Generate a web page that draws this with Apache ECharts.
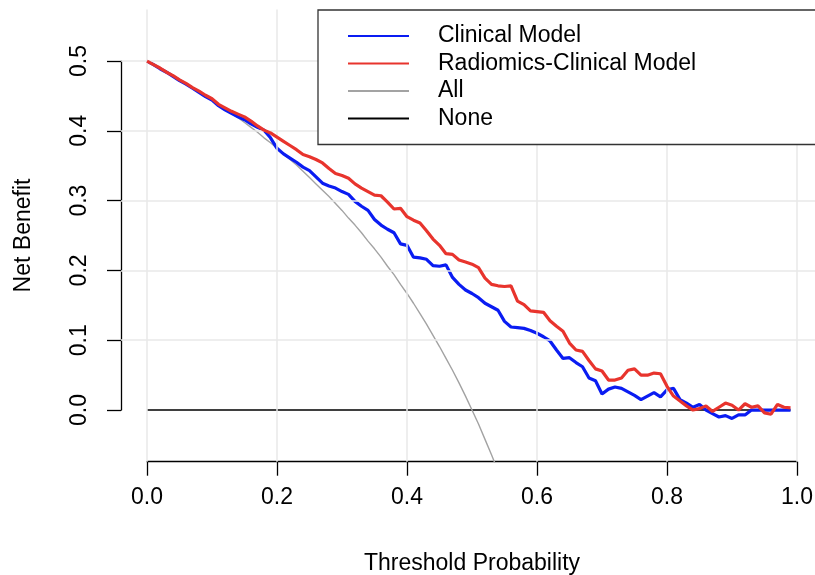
<!DOCTYPE html>
<html>
<head>
<meta charset="utf-8">
<script src="https://cdn.jsdelivr.net/npm/echarts@6/dist/echarts.min.js"></script>
<style>
  html, body { margin: 0; padding: 0; background: #fff; }
  #chart { width: 815px; height: 575px; }
</style>
</head>
<body>
<div id="chart"></div>
<script>
// 阈值概率 0.00 ~ 0.99
const thresholds = [
  0.00, 0.01, 0.02, 0.03, 0.04, 0.05, 0.06, 0.07, 0.08, 0.09,
  0.10, 0.11, 0.12, 0.13, 0.14, 0.15, 0.16, 0.17, 0.18, 0.19,
  0.20, 0.21, 0.22, 0.23, 0.24, 0.25, 0.26, 0.27, 0.28, 0.29,
  0.30, 0.31, 0.32, 0.33, 0.34, 0.35, 0.36, 0.37, 0.38, 0.39,
  0.40, 0.41, 0.42, 0.43, 0.44, 0.45, 0.46, 0.47, 0.48, 0.49,
  0.50, 0.51, 0.52, 0.53, 0.54, 0.55, 0.56, 0.57, 0.58, 0.59,
  0.60, 0.61, 0.62, 0.63, 0.64, 0.65, 0.66, 0.67, 0.68, 0.69,
  0.70, 0.71, 0.72, 0.73, 0.74, 0.75, 0.76, 0.77, 0.78, 0.79,
  0.80, 0.81, 0.82, 0.83, 0.84, 0.85, 0.86, 0.87, 0.88, 0.89,
  0.90, 0.91, 0.92, 0.93, 0.94, 0.95, 0.96, 0.97, 0.98, 0.99
]

// Clinical Model（蓝）
const clinical = [
  0.500, 0.495, 0.489, 0.484, 0.478, 0.472, 0.467, 0.461, 0.455, 0.449,
  0.444, 0.436, 0.430, 0.425, 0.420, 0.416, 0.410, 0.405, 0.401, 0.390,
  0.375, 0.367, 0.361, 0.355, 0.348, 0.343, 0.334, 0.325, 0.321, 0.318,
  0.313, 0.309, 0.299, 0.292, 0.286, 0.273, 0.265, 0.259, 0.254, 0.238,
  0.236, 0.219, 0.218, 0.216, 0.207, 0.206, 0.208, 0.190, 0.180, 0.172,
  0.167, 0.161, 0.153, 0.148, 0.143, 0.127, 0.119, 0.118, 0.117, 0.114,
  0.110, 0.105, 0.099, 0.086, 0.074, 0.075, 0.068, 0.062, 0.046, 0.042,
  0.023, 0.030, 0.033, 0.031, 0.026, 0.021, 0.015, 0.020, 0.025, 0.019,
  0.029, 0.031, 0.015, 0.010, 0.004, 0.008, 0.000, -0.005, -0.010, -0.008,
  -0.012, -0.007, -0.007, 0.000, 0.000, 0.000, 0.000, 0.000, 0.000, 0.000
]

// Radiomics-Clinical Model（红）
const radiomics = [
  0.500, 0.495, 0.490, 0.484, 0.479, 0.473, 0.468, 0.462, 0.457, 0.451,
  0.446, 0.438, 0.433, 0.428, 0.424, 0.420, 0.414, 0.407, 0.401, 0.397,
  0.391, 0.385, 0.379, 0.373, 0.366, 0.363, 0.359, 0.354, 0.346, 0.339,
  0.336, 0.332, 0.324, 0.318, 0.313, 0.308, 0.307, 0.298, 0.288, 0.289,
  0.277, 0.272, 0.268, 0.257, 0.245, 0.236, 0.224, 0.223, 0.215, 0.212,
  0.209, 0.204, 0.189, 0.180, 0.178, 0.177, 0.178, 0.156, 0.151, 0.142,
  0.141, 0.140, 0.128, 0.120, 0.113, 0.096, 0.086, 0.084, 0.071, 0.059,
  0.056, 0.043, 0.043, 0.046, 0.057, 0.059, 0.050, 0.050, 0.053, 0.052,
  0.034, 0.020, 0.013, 0.006, 0.000, 0.002, 0.006, -0.002, 0.004, 0.010,
  0.007, 0.000, 0.009, 0.004, 0.006, -0.004, -0.006, 0.008, 0.004, 0.003
]

// All（灰），超出下边界的部分被裁掉
const treatAll = [
  0.500, 0.495, 0.490, 0.485, 0.479, 0.474, 0.468, 0.462, 0.457, 0.451,
  0.444, 0.438, 0.432, 0.425, 0.419, 0.412, 0.405, 0.398, 0.390, 0.383,
  0.375, 0.367, 0.359, 0.351, 0.342, 0.333, 0.324, 0.315, 0.306, 0.296,
  0.286, 0.275, 0.265, 0.254, 0.242, 0.231, 0.219, 0.206, 0.194, 0.180,
  0.167, 0.153, 0.138, 0.123, 0.107, 0.091, 0.074, 0.057, 0.039, 0.020,
  0.000, -0.020, -0.042, -0.064, -0.087, -0.111
]

// None（黑）
const treatNone = [
  0, 0, 0, 0, 0, 0, 0, 0, 0, 0, 0, 0, 0, 0, 0, 0, 0, 0, 0, 0,
  0, 0, 0, 0, 0, 0, 0, 0, 0, 0, 0, 0, 0, 0, 0, 0, 0, 0, 0, 0,
  0, 0, 0, 0, 0, 0, 0, 0, 0, 0, 0, 0, 0, 0, 0, 0, 0, 0, 0, 0,
  0, 0, 0, 0, 0, 0, 0, 0, 0, 0, 0, 0, 0, 0, 0, 0, 0, 0, 0, 0,
  0, 0, 0, 0, 0, 0, 0, 0, 0, 0, 0, 0, 0, 0, 0, 0, 0, 0, 0, 0
]

// 刻度
const xTicks = [0, 0.2, 0.4, 0.6, 0.8, 1.0]
const yTicks = [0.1, 0.2, 0.3, 0.4, 0.5] // 0 处被 None 线盖住

const FONT = "'Liberation Sans', Arial, Helvetica, sans-serif"
const FS = 23
const pair = (ys) => ys.map((v, i) => [thresholds[i], v])

const chart = echarts.init(document.getElementById('chart'), null, { renderer: 'canvas' })

// 网格线（浅灰，铺满整个绘图区）
const gridMarks = {
  silent: true,
  symbol: ['none', 'none'],
  label: { show: false },
  lineStyle: { color: '#e8e8e8', width: 1.5, type: 'solid' },
  emphasis: { disabled: true },
  animation: false,
  data: [
    ...xTicks.map(v => ({ xAxis: v })),
    ...yTicks.map(v => ({ yAxis: v }))
  ]
}

const lineSeries = (name, ys, color, width, z) => ({
  name,
  type: 'line',
  data: pair(ys),
  symbol: 'none',
  clip: true,
  z,
  lineStyle: { color, width },
  itemStyle: { color },
  emphasis: { disabled: true }
})

const option = {
  animation: false,
  backgroundColor: '#fff',
  textStyle: { fontFamily: FONT },
  // 0: 绘图区；1: x 轴（只画 0~1）；2: y 轴（只画 0~0.5）
  grid: [
    { left: 121, top: 9.4, width: 702, height: 452.3, outerBoundsMode: 'none' },
    { left: 147, top: 9.4, width: 650, height: 452.3, outerBoundsMode: 'none' },
    { left: 121, top: 61, width: 650, height: 349, outerBoundsMode: 'none' }
  ],
  xAxis: [
    { gridIndex: 0, type: 'value', min: -0.04, max: 1.04, show: false },
    {
      gridIndex: 1, type: 'value', min: 0, max: 1, interval: 0.2,
      name: 'Threshold Probability', nameLocation: 'middle', nameGap: 90,
      nameTextStyle: { fontSize: FS, color: '#000', fontFamily: FONT },
      axisLine: { onZero: false, lineStyle: { color: '#000', width: 1.3 } },
      axisTick: { length: 14, lineStyle: { color: '#000', width: 1.3 } },
      axisLabel: { fontSize: FS, color: '#000', margin: 24, fontFamily: FONT, formatter: v => v.toFixed(1) },
      splitLine: { show: false }
    },
    { gridIndex: 2, type: 'value', min: 0, max: 1, show: false }
  ],
  yAxis: [
    { gridIndex: 0, type: 'value', min: -0.074, max: 0.574, show: false },
    { gridIndex: 1, type: 'value', min: 0, max: 1, show: false },
    {
      gridIndex: 2, type: 'value', min: 0, max: 0.5, interval: 0.1,
      name: 'Net Benefit', nameLocation: 'middle', nameGap: 86,
      nameTextStyle: { fontSize: FS, color: '#000', fontFamily: FONT },
      axisLine: { show: true, onZero: false, lineStyle: { color: '#000', width: 1.3 } },
      axisTick: { show: true, length: 14, lineStyle: { color: '#000', width: 1.3 } },
      axisLabel: { fontSize: FS, color: '#000', rotate: 90, margin: 30, fontFamily: FONT, formatter: v => v.toFixed(1) },
      splitLine: { show: false }
    }
  ],
  legend: {
    data: ['Clinical Model', 'Radiomics-Clinical Model', 'All', 'None'],
    orient: 'vertical',
    left: 318,
    top: 10,
    z: 20,
    padding: [14.5, 180, 14.5, 29],
    itemGap: 4.5,
    itemWidth: 61,
    itemHeight: 14,
    itemStyle: { opacity: 0 },
    backgroundColor: '#fff',
    borderColor: '#333',
    borderWidth: 1.3,
    textStyle: { fontSize: FS, color: '#000', fontFamily: FONT, padding: [0, 0, 0, 24] }
  },
  series: [
    {
      name: 'grid',
      type: 'line',
      data: [],
      z: 1,
      markLine: gridMarks
    },
    lineSeries('None', treatNone, '#000000', 1.5, 2),
    lineSeries('All', treatAll, '#a3a3a3', 1.4, 3),
    lineSeries('Clinical Model', clinical, '#0a1cf2', 3.2, 4),
    lineSeries('Radiomics-Clinical Model', radiomics, '#e8342d', 3.2, 5)
  ]
}

chart.setOption(option)
</script>
</body>
</html>
